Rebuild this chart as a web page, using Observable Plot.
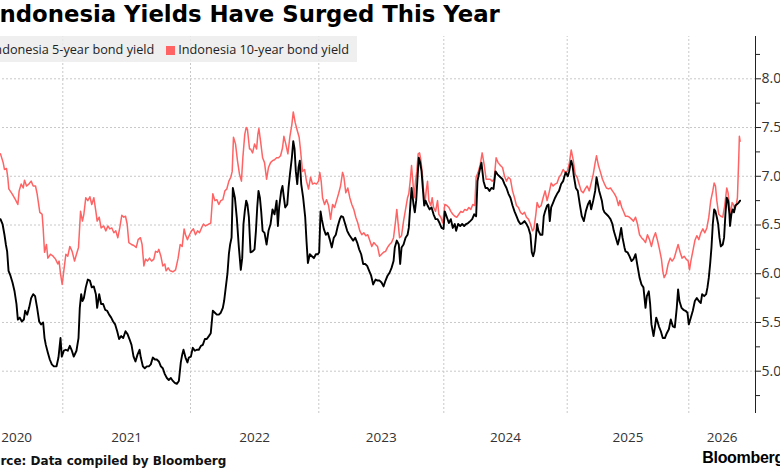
<!DOCTYPE html>
<html><head><meta charset="utf-8">
<script src="https://cdn.jsdelivr.net/npm/d3@7"></script>
<script src="https://cdn.jsdelivr.net/npm/@observablehq/plot@0.6"></script>
<style>
html,body{margin:0;padding:0;background:#fff;overflow:hidden;}
#wrap{position:relative;width:780px;height:470px;overflow:hidden;font-family:"Open Sans",sans-serif;}
#title{position:absolute;left:-9px;top:1px;font-weight:bold;font-size:22.8px;font-family:"DejaVu Sans",sans-serif;white-space:nowrap;color:#000;z-index:3}
#legend{position:absolute;right:423px;top:36px;height:26px;padding:0 8px 0 10px;background:rgba(236,236,236,0.82);display:flex;align-items:center;gap:12px;font-size:12.7px;color:#222;z-index:2;white-space:nowrap}
#legend .sw{display:inline-block;width:9px;height:9px;margin-right:3px;vertical-align:-1px}
#chart{position:absolute;left:0;top:0;z-index:1}
#source{position:absolute;left:-25px;top:454px;font-weight:bold;font-size:12px;font-family:"DejaVu Sans",sans-serif;white-space:nowrap;color:#111}
#brand{position:absolute;right:-4px;top:449px;font-weight:bold;font-size:16px;font-family:"Liberation Sans",sans-serif;white-space:nowrap;color:#000;letter-spacing:-0.3px}
</style></head><body>
<div id="wrap">
  <div id="title">Indonesia Yields Have Surged This Year</div>
  <div id="legend"></div>
  <div id="chart"></div>
  <div id="source">Source: Data compiled by Bloomberg</div>
  <div id="brand">Bloomberg</div>
</div>
<script>
// ---- data (decimal year, yield %) ----
const seriesNames = ["Indonesia 5-year bond yield", "Indonesia 10-year bond yield"];
const seriesColors = ["#000000", "#ff6363"];
const yearLabels = [2020, 2021, 2022, 2023, 2024, 2025, 2026];
const yTickValues = [5.0, 5.5, 6.0, 6.5, 7.0, 7.5, 8.0];
const yMinorValues = [4.75, 5.25, 5.75, 6.25, 6.75, 7.25, 7.75, 8.25];

const tenYear = [
[2020.512,7.23],[2020.533,7.14],[2020.543,7.07],[2020.559,7.08],[2020.569,6.99],[2020.577,6.87],[2020.603,6.82],[2020.629,6.76],[2020.648,6.71],[2020.658,6.85],[2020.674,6.92],[2020.690,6.88],[2020.700,6.96],[2020.716,6.90],[2020.734,6.92],[2020.752,6.95],[2020.768,6.90],[2020.786,6.90],[2020.799,6.82],[2020.820,6.63],[2020.838,6.61],[2020.846,6.47],[2020.857,6.22],[2020.872,6.30],[2020.883,6.16],[2020.904,6.20],[2020.924,6.18],[2020.943,6.15],[2020.961,6.10],[2020.971,6.13],[2020.982,6.00],[2020.995,5.89],
[2021.008,6.03],[2021.024,6.20],[2021.039,6.18],[2021.055,6.28],[2021.073,6.23],[2021.092,6.13],[2021.107,6.20],[2021.123,6.27],[2021.139,6.64],[2021.154,6.54],[2021.165,6.61],[2021.180,6.78],[2021.196,6.75],[2021.212,6.79],[2021.227,6.71],[2021.243,6.78],[2021.259,6.64],[2021.269,6.54],[2021.285,6.58],[2021.300,6.47],[2021.321,6.49],[2021.337,6.44],[2021.353,6.49],[2021.368,6.46],[2021.384,6.47],[2021.400,6.42],[2021.415,6.44],[2021.431,6.37],[2021.446,6.47],[2021.462,6.60],[2021.478,6.58],
[2021.491,6.59],[2021.504,6.51],[2021.517,6.32],[2021.538,6.30],[2021.556,6.29],[2021.575,6.27],[2021.590,6.35],[2021.608,6.37],[2021.621,6.30],[2021.635,6.08],[2021.648,6.15],[2021.663,6.13],[2021.679,6.16],[2021.695,6.13],[2021.713,6.15],[2021.726,6.23],[2021.742,6.22],[2021.752,6.25],[2021.768,6.18],[2021.783,6.08],[2021.799,6.10],[2021.809,6.03],[2021.825,6.06],[2021.841,6.03],[2021.862,6.02],[2021.883,6.04],[2021.903,6.16],[2021.919,6.30],[2021.935,6.28],[2021.950,6.46],[2021.961,6.40],[2021.976,6.35],[2021.992,6.40],
[2022.008,6.44],[2022.023,6.46],[2022.039,6.40],[2022.055,6.44],[2022.070,6.42],[2022.086,6.47],[2022.101,6.51],[2022.117,6.49],[2022.143,6.51],[2022.158,6.52],[2022.174,6.82],[2022.190,6.75],[2022.205,6.76],[2022.221,6.71],[2022.236,6.75],[2022.252,6.76],[2022.268,6.85],[2022.283,6.87],[2022.299,6.95],[2022.314,6.99],[2022.325,7.05],[2022.335,7.40],[2022.351,7.33],[2022.366,7.16],[2022.382,7.02],[2022.397,6.95],[2022.408,7.19],[2022.423,7.43],[2022.434,7.50],[2022.444,7.48],[2022.460,7.28],
[2022.468,7.28],[2022.484,7.24],[2022.499,7.33],[2022.515,7.28],[2022.525,7.43],[2022.533,7.49],[2022.546,7.36],[2022.562,7.19],[2022.577,7.14],[2022.593,6.97],[2022.608,7.09],[2022.624,7.14],[2022.639,7.16],[2022.655,7.17],[2022.671,7.19],[2022.686,7.19],[2022.702,7.21],[2022.717,7.29],[2022.728,7.41],[2022.743,7.33],[2022.759,7.23],[2022.775,7.41],[2022.790,7.53],[2022.801,7.66],[2022.816,7.55],[2022.832,7.47],[2022.847,7.40],[2022.858,7.26],[2022.873,7.05],[2022.889,7.07],[2022.904,6.95],[2022.920,6.87],[2022.936,6.99],[2022.951,6.92],[2022.967,6.93],[2022.982,6.92],[2022.998,6.95],
[2023.008,7.04],[2023.019,6.95],[2023.030,6.78],[2023.046,6.71],[2023.062,6.76],[2023.078,6.70],[2023.094,6.56],[2023.110,6.71],[2023.126,6.68],[2023.142,6.75],[2023.158,6.82],[2023.174,6.90],[2023.190,7.04],[2023.200,7.00],[2023.216,6.83],[2023.232,6.88],[2023.248,6.78],[2023.264,6.71],[2023.280,6.66],[2023.296,6.58],[2023.312,6.52],[2023.328,6.44],[2023.344,6.40],[2023.360,6.42],[2023.376,6.39],[2023.392,6.40],[2023.408,6.34],[2023.424,6.28],[2023.440,6.32],
[2023.454,6.30],[2023.470,6.28],[2023.486,6.18],[2023.502,6.20],[2023.518,6.22],[2023.534,6.23],[2023.550,6.27],[2023.566,6.30],[2023.582,6.32],[2023.598,6.37],[2023.614,6.54],[2023.624,6.66],[2023.635,6.51],[2023.646,6.37],[2023.662,6.39],[2023.678,6.54],[2023.694,6.66],[2023.710,6.78],[2023.720,6.82],[2023.731,6.95],[2023.742,7.11],[2023.752,6.95],[2023.763,6.78],[2023.774,6.95],[2023.784,7.05],[2023.795,7.23],[2023.806,7.24],[2023.816,7.17],[2023.827,7.04],[2023.838,6.85],[2023.848,6.70],[2023.859,6.85],[2023.870,6.95],[2023.880,6.75],[2023.896,6.70],[2023.907,6.78],[2023.918,6.68],[2023.934,6.64],[2023.950,6.75],[2023.960,6.61],[2023.976,6.58],[2023.992,6.52],
[2024.008,6.71],[2024.025,6.70],[2024.041,6.68],[2024.057,6.64],[2024.073,6.61],[2024.089,6.59],[2024.106,6.58],[2024.122,6.61],[2024.138,6.64],[2024.154,6.63],[2024.170,6.66],[2024.187,6.65],[2024.203,6.68],[2024.219,6.66],[2024.235,6.71],[2024.251,6.70],[2024.262,6.99],[2024.278,7.04],[2024.295,7.12],[2024.311,7.24],[2024.327,7.12],[2024.343,6.97],[2024.359,6.97],[2024.376,6.97],[2024.392,6.95],[2024.408,6.97],[2024.424,7.19],[2024.440,7.14],
[2024.459,7.11],[2024.476,7.09],[2024.492,7.00],[2024.508,6.95],[2024.524,6.99],[2024.540,6.97],[2024.557,6.85],[2024.573,6.78],[2024.589,6.70],[2024.605,6.68],[2024.621,6.63],[2024.638,6.61],[2024.654,6.63],[2024.670,6.58],[2024.686,6.56],[2024.702,6.51],[2024.719,6.44],[2024.730,6.46],[2024.746,6.61],[2024.756,6.73],[2024.772,6.68],[2024.789,6.70],[2024.805,6.78],[2024.821,6.85],[2024.837,6.75],[2024.853,6.83],[2024.870,6.93],[2024.886,6.90],[2024.902,6.92],[2024.918,6.93],[2024.934,6.99],[2024.951,7.02],[2024.967,7.07],[2024.983,7.04],
[2025.000,7.05],[2025.016,7.12],[2025.033,7.27],[2025.049,7.17],[2025.066,7.02],[2025.082,6.99],[2025.098,6.92],[2025.115,6.85],[2025.131,6.83],[2025.148,6.87],[2025.164,6.90],[2025.181,6.85],[2025.197,6.93],[2025.214,7.02],[2025.230,7.14],[2025.241,7.21],[2025.257,7.11],[2025.274,7.04],[2025.290,6.97],[2025.307,6.92],[2025.323,6.88],[2025.339,6.87],[2025.356,6.88],[2025.372,6.85],[2025.389,6.82],[2025.405,6.78],[2025.422,6.70],[2025.433,6.75],[2025.449,6.68],[2025.466,6.63],
[2025.479,6.59],[2025.496,6.59],[2025.512,6.58],[2025.529,6.56],[2025.545,6.54],[2025.562,6.58],[2025.578,6.51],[2025.595,6.40],[2025.611,6.37],[2025.627,6.35],[2025.644,6.32],[2025.660,6.40],[2025.677,6.35],[2025.693,6.28],[2025.710,6.37],[2025.726,6.42],[2025.743,6.34],[2025.759,6.25],[2025.775,6.15],[2025.786,6.03],[2025.797,5.96],[2025.814,6.00],[2025.830,6.10],[2025.847,6.16],[2025.863,6.13],[2025.880,6.16],[2025.896,6.23],[2025.912,6.30],[2025.929,6.22],[2025.945,6.16],[2025.962,6.18],[2025.978,6.15],[2025.995,6.13],
[2026.006,6.04],[2026.017,6.13],[2026.033,6.23],[2026.050,6.34],[2026.066,6.39],[2026.083,6.35],[2026.099,6.42],[2026.116,6.46],[2026.132,6.42],[2026.149,6.47],[2026.165,6.58],[2026.181,6.75],[2026.198,6.85],[2026.209,6.93],[2026.220,6.90],[2026.231,6.75],[2026.247,6.61],[2026.264,6.59],[2026.280,6.58],[2026.296,6.70],[2026.313,6.88],[2026.324,6.83],[2026.335,6.70],[2026.346,6.61],[2026.357,6.73],[2026.368,6.71],[2026.379,6.66],[2026.390,6.70],[2026.401,6.78],[2026.412,7.19],[2026.417,7.41],[2026.423,7.36]
];

const fiveYear = [
[2020.512,6.56],[2020.528,6.51],[2020.543,6.40],[2020.554,6.30],[2020.564,6.23],[2020.575,6.03],[2020.590,5.98],[2020.606,5.91],[2020.622,5.82],[2020.637,5.69],[2020.648,5.53],[2020.663,5.55],[2020.679,5.51],[2020.695,5.53],[2020.705,5.62],[2020.721,5.58],[2020.736,5.65],[2020.752,5.75],[2020.768,5.79],[2020.783,5.77],[2020.799,5.65],[2020.815,5.51],[2020.830,5.48],[2020.846,5.50],[2020.857,5.34],[2020.867,5.27],[2020.883,5.19],[2020.898,5.12],[2020.914,5.07],[2020.930,5.05],[2020.951,5.05],[2020.966,5.14],[2020.982,5.34],[2020.992,5.15],
[2021.008,5.21],[2021.024,5.22],[2021.039,5.21],[2021.055,5.26],[2021.071,5.21],[2021.086,5.15],[2021.107,5.21],[2021.123,5.34],[2021.133,5.65],[2021.144,5.79],[2021.154,5.72],[2021.165,5.75],[2021.180,5.86],[2021.196,5.94],[2021.212,5.93],[2021.227,5.86],[2021.243,5.87],[2021.259,5.79],[2021.269,5.65],[2021.285,5.79],[2021.300,5.69],[2021.316,5.69],[2021.332,5.63],[2021.347,5.62],[2021.363,5.58],[2021.379,5.55],[2021.394,5.51],[2021.410,5.48],[2021.426,5.41],[2021.441,5.33],[2021.457,5.36],[2021.473,5.34],
[2021.491,5.41],[2021.507,5.38],[2021.522,5.33],[2021.538,5.27],[2021.554,5.15],[2021.569,5.10],[2021.585,5.17],[2021.601,5.22],[2021.611,5.14],[2021.627,5.05],[2021.642,5.03],[2021.658,5.05],[2021.674,5.05],[2021.689,5.07],[2021.705,5.14],[2021.721,5.12],[2021.736,5.12],[2021.752,5.10],[2021.768,5.05],[2021.783,5.03],[2021.799,4.97],[2021.815,4.93],[2021.830,4.91],[2021.846,4.93],[2021.862,4.90],[2021.877,4.88],[2021.893,4.87],[2021.909,4.90],[2021.924,5.09],[2021.935,5.17],[2021.945,5.22],[2021.961,5.14],[2021.976,5.09],[2021.987,5.14],
[2022.003,5.15],[2022.018,5.24],[2022.034,5.21],[2022.049,5.22],[2022.065,5.22],[2022.081,5.26],[2022.096,5.27],[2022.112,5.33],[2022.127,5.33],[2022.143,5.36],[2022.158,5.39],[2022.174,5.62],[2022.190,5.60],[2022.205,5.58],[2022.221,5.58],[2022.236,5.60],[2022.252,5.65],[2022.262,5.72],[2022.273,5.84],[2022.288,6.00],[2022.299,6.20],[2022.309,6.30],[2022.320,6.37],[2022.330,6.88],[2022.346,6.78],[2022.361,6.57],[2022.377,6.27],[2022.392,6.04],[2022.403,6.16],[2022.413,6.51],[2022.423,6.64],[2022.434,6.75],[2022.444,6.71],[2022.455,6.58],
[2022.468,6.22],[2022.484,6.23],[2022.499,6.25],[2022.510,6.44],[2022.520,6.68],[2022.530,6.85],[2022.541,6.78],[2022.551,6.64],[2022.562,6.44],[2022.577,6.42],[2022.593,6.30],[2022.608,6.44],[2022.624,6.51],[2022.639,6.66],[2022.655,6.61],[2022.671,6.75],[2022.681,6.49],[2022.691,6.68],[2022.707,6.85],[2022.717,6.90],[2022.728,6.78],[2022.738,6.68],[2022.754,6.71],[2022.764,6.88],[2022.775,7.02],[2022.790,7.19],[2022.801,7.36],[2022.811,7.28],[2022.821,7.05],[2022.832,6.92],[2022.842,7.09],[2022.852,7.16],[2022.863,6.92],[2022.878,6.78],[2022.894,6.58],[2022.904,6.34],[2022.915,6.11],[2022.930,6.20],[2022.946,6.18],[2022.962,6.16],[2022.977,6.20],[2022.993,6.20],
[2023.003,6.22],[2023.014,6.64],[2023.024,6.56],[2023.040,6.46],[2023.056,6.40],[2023.072,6.42],[2023.088,6.35],[2023.104,6.27],[2023.120,6.37],[2023.136,6.40],[2023.152,6.49],[2023.168,6.56],[2023.179,6.59],[2023.195,6.58],[2023.211,6.51],[2023.227,6.44],[2023.243,6.40],[2023.259,6.37],[2023.275,6.34],[2023.291,6.37],[2023.307,6.32],[2023.323,6.25],[2023.339,6.20],[2023.355,6.10],[2023.371,6.10],[2023.387,6.08],[2023.403,6.03],[2023.419,5.98],[2023.435,5.89],
[2023.454,5.94],[2023.470,5.93],[2023.486,5.93],[2023.502,5.91],[2023.518,5.87],[2023.534,5.93],[2023.550,5.98],[2023.566,6.01],[2023.582,6.06],[2023.598,6.13],[2023.608,6.27],[2023.624,6.34],[2023.640,6.30],[2023.651,6.10],[2023.662,6.27],[2023.678,6.30],[2023.694,6.37],[2023.710,6.40],[2023.720,6.47],[2023.731,6.68],[2023.742,6.88],[2023.758,6.71],[2023.768,6.63],[2023.779,6.75],[2023.790,6.99],[2023.800,7.19],[2023.811,7.14],[2023.822,7.05],[2023.832,6.88],[2023.843,6.70],[2023.854,6.75],[2023.870,6.70],[2023.886,6.66],[2023.902,6.68],[2023.918,6.61],[2023.934,6.56],[2023.950,6.56],[2023.966,6.52],[2023.982,6.47],[2023.998,6.46],
[2024.008,6.64],[2024.025,6.58],[2024.041,6.52],[2024.057,6.56],[2024.073,6.47],[2024.089,6.51],[2024.100,6.44],[2024.116,6.51],[2024.133,6.49],[2024.149,6.51],[2024.165,6.49],[2024.181,6.51],[2024.197,6.52],[2024.214,6.54],[2024.230,6.56],[2024.246,6.61],[2024.262,6.59],[2024.273,6.95],[2024.289,7.05],[2024.305,7.14],[2024.322,6.95],[2024.338,6.88],[2024.354,6.88],[2024.370,6.85],[2024.386,6.88],[2024.403,6.87],[2024.419,7.05],[2024.435,7.02],
[2024.459,6.99],[2024.476,6.97],[2024.492,6.92],[2024.508,6.88],[2024.524,6.82],[2024.540,6.78],[2024.557,6.70],[2024.573,6.64],[2024.589,6.59],[2024.605,6.54],[2024.621,6.51],[2024.638,6.52],[2024.654,6.54],[2024.670,6.51],[2024.686,6.47],[2024.702,6.40],[2024.713,6.22],[2024.724,6.18],[2024.735,6.23],[2024.746,6.37],[2024.756,6.51],[2024.767,6.44],[2024.783,6.40],[2024.799,6.40],[2024.810,6.59],[2024.821,6.64],[2024.837,6.70],[2024.848,6.71],[2024.859,6.54],[2024.870,6.68],[2024.886,6.73],[2024.902,6.78],[2024.918,6.82],[2024.934,6.85],[2024.951,6.92],[2024.967,6.95],[2024.978,7.00],[2024.988,7.04],
[2025.005,7.00],[2025.016,7.05],[2025.033,7.16],[2025.044,7.11],[2025.055,7.00],[2025.071,6.88],[2025.087,6.85],[2025.104,6.71],[2025.120,6.59],[2025.137,6.54],[2025.153,6.64],[2025.170,6.71],[2025.186,6.75],[2025.197,6.66],[2025.214,6.75],[2025.230,6.85],[2025.241,6.99],[2025.252,6.92],[2025.263,6.85],[2025.274,6.80],[2025.285,6.75],[2025.296,6.66],[2025.307,6.63],[2025.323,6.61],[2025.339,6.59],[2025.356,6.56],[2025.372,6.51],[2025.383,6.44],[2025.400,6.37],[2025.416,6.30],[2025.427,6.35],[2025.444,6.47],[2025.455,6.37],[2025.471,6.27],
[2025.479,6.23],[2025.496,6.22],[2025.512,6.18],[2025.529,6.13],[2025.545,6.15],[2025.562,6.20],[2025.578,6.08],[2025.595,5.96],[2025.611,5.89],[2025.627,5.86],[2025.644,5.65],[2025.655,5.77],[2025.671,5.82],[2025.682,5.69],[2025.693,5.48],[2025.710,5.36],[2025.721,5.45],[2025.732,5.55],[2025.743,5.51],[2025.754,5.46],[2025.770,5.41],[2025.786,5.34],[2025.803,5.34],[2025.819,5.39],[2025.836,5.43],[2025.852,5.53],[2025.869,5.46],[2025.885,5.45],[2025.901,5.65],[2025.912,5.84],[2025.923,5.72],[2025.940,5.65],[2025.956,5.63],[2025.973,5.62],[2025.989,5.60],
[2026.000,5.48],[2026.017,5.55],[2026.033,5.62],[2026.050,5.72],[2026.066,5.75],[2026.083,5.72],[2026.099,5.70],[2026.110,5.79],[2026.127,5.77],[2026.143,5.79],[2026.154,5.86],[2026.165,5.96],[2026.176,6.10],[2026.187,6.27],[2026.198,6.51],[2026.209,6.66],[2026.220,6.64],[2026.231,6.58],[2026.242,6.51],[2026.253,6.37],[2026.264,6.28],[2026.280,6.30],[2026.291,6.37],[2026.302,6.61],[2026.313,6.78],[2026.324,6.75],[2026.335,6.61],[2026.340,6.49],[2026.351,6.61],[2026.362,6.66],[2026.373,6.63],[2026.384,6.70],[2026.395,6.71],[2026.412,6.73],[2026.423,6.75]
];

// ---- scale settings ----
const xStart = 2020.277, xEnd = 2026.55;
const yMin = 4.566, yMax = 8.434;
const yearBreaks = [2021, 2022, 2023, 2024, 2025, 2026];
// piecewise time axis (page pixel positions of the frame edges and year gridlines)
const xDomain = [xStart, ...yearBreaks, xEnd];
const xRange = [-30, 62.3, 190, 318.3, 443.3, 566.7, 688.3, 755];

const rows = (arr) => arr.map(([t, v]) => ({t, v}));
const d10 = rows(tenYear), d5 = rows(fiveYear);
const labelPos = yearLabels.map(y => ({year: y, t: (Math.max(y, xStart) + Math.min(y + 1, xEnd)) / 2}));

const chart = Plot.plot({
  width: 780, height: 455,
  marginTop: 36, marginBottom: 42, marginLeft: 0, marginRight: 25,
  x: {type: "linear", domain: xDomain, range: xRange, axis: null},
  y: {domain: [yMin, yMax], range: [413, 36]},
  style: {fontFamily: '"Open Sans", sans-serif', background: "transparent"},
  marks: [
    Plot.ruleY(yTickValues, {x1: xStart, x2: xEnd, stroke: "#c8c8c8", strokeDasharray: "2,2"}),
    Plot.ruleX(yearBreaks, {y1: yMin, y2: yMax, stroke: "#c8c8c8", strokeDasharray: "2,2"}),
    Plot.line(d10, {x: "t", y: "v", stroke: seriesColors[1], strokeWidth: 1.5}),
    Plot.line(d5, {x: "t", y: "v", stroke: seriesColors[0], strokeWidth: 1.9}),
    Plot.ruleX([xEnd], {y1: yMin, y2: yMax, stroke: "#222", strokeWidth: 1}),
    Plot.axisY(yTickValues, {anchor: "right", label: null, tickSize: 5, tickPadding: 1, stroke: "#222", fill: "#333", fontSize: 14, tickFormat: d => d.toFixed(1)}),
    Plot.axisY(yMinorValues, {anchor: "right", label: null, tickSize: 4, stroke: "#222", tickFormat: () => ""}),
    Plot.text(labelPos, {x: "t", text: d => String(d.year), frameAnchor: "bottom", dy: 28, fontSize: 13.5, fill: "#333"})
  ]
});
document.getElementById("chart").appendChild(chart);

const legend = d3.select("#legend");
seriesNames.forEach((name, i) => {
  const item = legend.append("span");
  item.append("span").attr("class", "sw").style("background", seriesColors[i]);
  item.append("span").text(name);
});
</script>
</body></html>
